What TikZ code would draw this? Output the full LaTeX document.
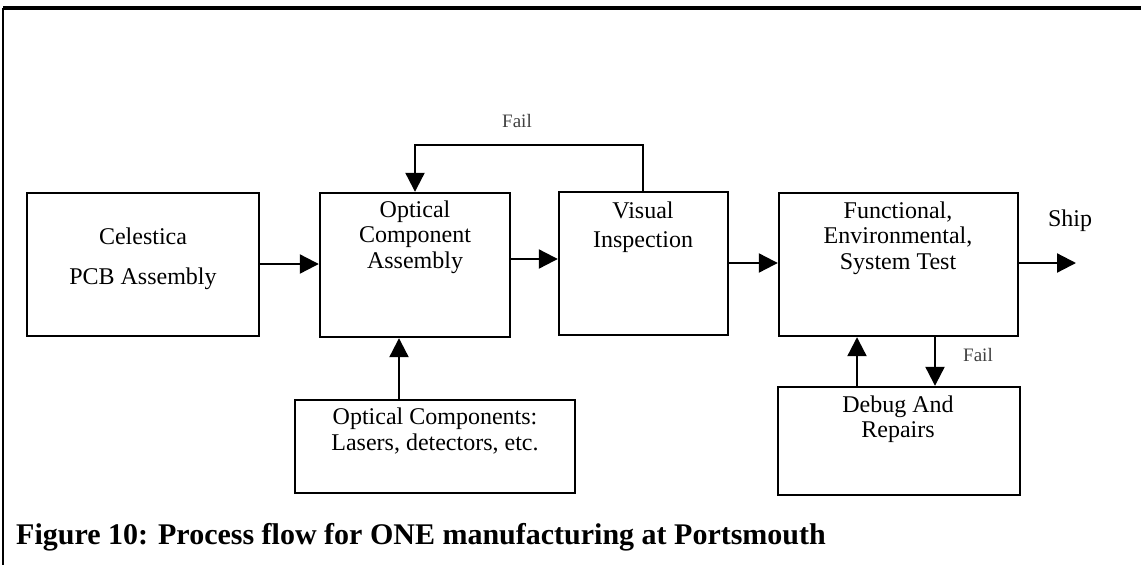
\documentclass[tikz,border=0pt]{standalone}
\usepackage{fontspec}
\setmainfont{Liberation Serif}
\usetikzlibrary{arrows.meta,fit}
\begin{document}
\begin{tikzpicture}[x=1pt,y=-1pt,
  box/.style={draw,line width=2.4pt,inner sep=0pt,rectangle},
  txt/.style={align=center,inner sep=0pt,font=\fontsize{24}{25.5}\selectfont},
  faillbl/.style={inner sep=0pt,text=black!75,font=\fontsize{19}{20}\selectfont},
  arr/.style={line width=2.2pt,-{Triangle[length=19pt,width=19pt]}}]
\useasboundingbox (0,0) rectangle (1141,565);
% frame
\coordinate (ftl) at (3,8);
\coordinate (ftr) at (1141,8);
\coordinate (fbl) at (3,565);
\draw[line width=3.2pt] (ftr) -- (ftl);
\draw[line width=2pt] (ftl) -- (fbl);
% boxes
\node[box,fit={(27,193) (259,336)}] (cel) {};
\node[box,fit={(320,193) (510,337)}] (oca) {};
\node[box,fit={(559,192) (728,335)}] (vis) {};
\node[box,fit={(779,193) (1018,336)}] (fun) {};
\node[box,fit={(295,400) (575,493)}] (opc) {};
\node[box,fit={(778,387) (1020,495)}] (dbg) {};
% texts
\node[txt] (celt) at (143,259) {Celestica\\[14pt]PCB Assembly};
\node[txt] (ocat) at (415,237) {Optical\\Component\\Assembly};
\node[txt] (vist) at (643,227) {Visual\\[3pt]Inspection};
\node[txt] (funt) at (898,238) {Functional,\\Environmental,\\System Test};
\node[txt] (opct) at (435,431) {Optical Components:\\Lasers, detectors, etc.};
\node[txt] (dbgt) at (898,419) {Debug And\\Repairs};
\node[txt] (ship) at (1070,221) {Ship};
\node[faillbl] (fail1) at (517,121) {Fail};
\node[faillbl] (fail2) at (978,355) {Fail};
\node[inner sep=0pt,anchor=west,font=\bfseries\fontsize{30}{32}\selectfont] (cap) at (16,537) {Figure 10: Process flow for ONE manufacturing at Portsmouth};
% connectors
\coordinate (shipend) at (1076,263);
\draw[arr] (cel.east |- 0,264) -- (oca.west |- 0,264);
\draw[arr] (oca.east |- 0,259) -- (vis.west |- 0,259);
\draw[arr] (vis.east |- 0,263) -- (fun.west |- 0,263);
\draw[arr] (fun.east |- shipend) -- (shipend);
\coordinate (loopr) at (643,145);
\coordinate (loopl) at (415,145);
\draw[arr] (vis.north -| loopr) -- (loopr) -- (loopl) -- (oca.north -| loopl);
\draw[arr] (opc.north -| 399,0) -- (oca.south -| 399,0);
\draw[arr] (dbg.north -| 857,0) -- (fun.south -| 857,0);
\draw[arr] (fun.south -| 935,0) -- (dbg.north -| 935,0);
\end{tikzpicture}
\end{document}
